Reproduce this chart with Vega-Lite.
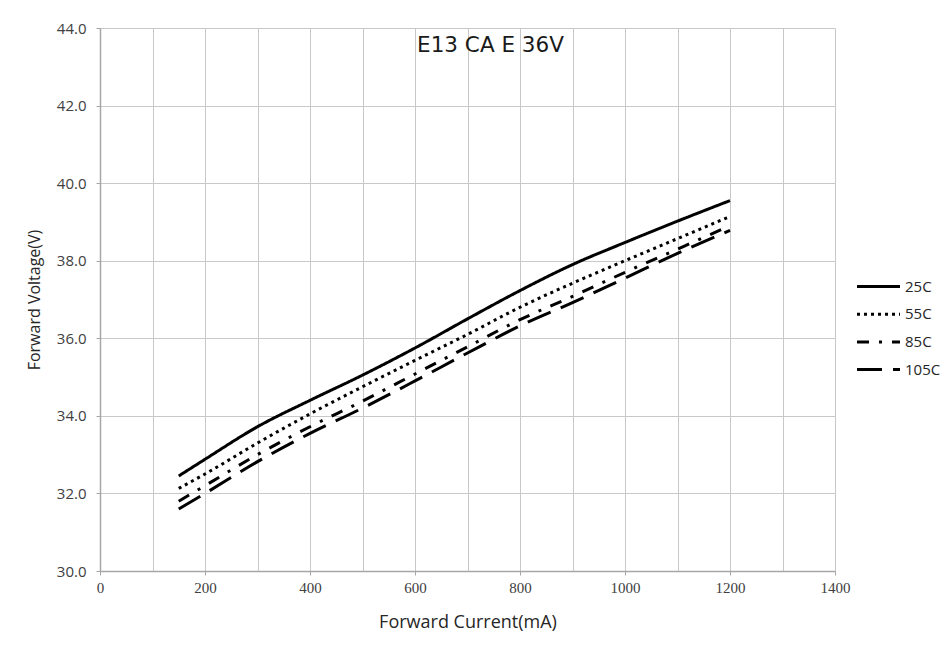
{
  "$schema": "https://vega.github.io/schema/vega-lite/v6.json",
  "autosize": "none",
  "width": 735,
  "height": 543,
  "padding": {"left": 100, "top": 28, "right": 111, "bottom": 74},
  "background": "white",
  "config": {"view": {"stroke": null}},
  "title": {"text": "E13 CA E 36V", "offset": -35, "dx": 23, "font": "DejaVu Sans", "fontSize": 21.5, "fontWeight": "normal", "color": "#1a1a1a"},
  "data": {"values": [
    {"current": 150, "voltage": 32.45, "temp": "25C"},
    {"current": 200, "voltage": 32.88, "temp": "25C"},
    {"current": 300, "voltage": 33.72, "temp": "25C"},
    {"current": 400, "voltage": 34.4, "temp": "25C"},
    {"current": 500, "voltage": 35.05, "temp": "25C"},
    {"current": 600, "voltage": 35.75, "temp": "25C"},
    {"current": 700, "voltage": 36.5, "temp": "25C"},
    {"current": 800, "voltage": 37.23, "temp": "25C"},
    {"current": 900, "voltage": 37.9, "temp": "25C"},
    {"current": 1000, "voltage": 38.47, "temp": "25C"},
    {"current": 1100, "voltage": 39.02, "temp": "25C"},
    {"current": 1200, "voltage": 39.55, "temp": "25C"},
    {"current": 150, "voltage": 32.13, "temp": "55C"},
    {"current": 200, "voltage": 32.5, "temp": "55C"},
    {"current": 300, "voltage": 33.3, "temp": "55C"},
    {"current": 400, "voltage": 34.05, "temp": "55C"},
    {"current": 500, "voltage": 34.75, "temp": "55C"},
    {"current": 600, "voltage": 35.43, "temp": "55C"},
    {"current": 700, "voltage": 36.1, "temp": "55C"},
    {"current": 800, "voltage": 36.8, "temp": "55C"},
    {"current": 900, "voltage": 37.42, "temp": "55C"},
    {"current": 1000, "voltage": 38.0, "temp": "55C"},
    {"current": 1100, "voltage": 38.57, "temp": "55C"},
    {"current": 1200, "voltage": 39.14, "temp": "55C"},
    {"current": 150, "voltage": 31.8, "temp": "85C"},
    {"current": 200, "voltage": 32.2, "temp": "85C"},
    {"current": 300, "voltage": 33.0, "temp": "85C"},
    {"current": 400, "voltage": 33.72, "temp": "85C"},
    {"current": 500, "voltage": 34.38, "temp": "85C"},
    {"current": 600, "voltage": 35.08, "temp": "85C"},
    {"current": 700, "voltage": 35.78, "temp": "85C"},
    {"current": 800, "voltage": 36.48, "temp": "85C"},
    {"current": 900, "voltage": 37.08, "temp": "85C"},
    {"current": 1000, "voltage": 37.7, "temp": "85C"},
    {"current": 1100, "voltage": 38.3, "temp": "85C"},
    {"current": 1200, "voltage": 38.9, "temp": "85C"},
    {"current": 150, "voltage": 31.6, "temp": "105C"},
    {"current": 200, "voltage": 32.0, "temp": "105C"},
    {"current": 300, "voltage": 32.82, "temp": "105C"},
    {"current": 400, "voltage": 33.55, "temp": "105C"},
    {"current": 500, "voltage": 34.2, "temp": "105C"},
    {"current": 600, "voltage": 34.9, "temp": "105C"},
    {"current": 700, "voltage": 35.62, "temp": "105C"},
    {"current": 800, "voltage": 36.32, "temp": "105C"},
    {"current": 900, "voltage": 36.92, "temp": "105C"},
    {"current": 1000, "voltage": 37.55, "temp": "105C"},
    {"current": 1100, "voltage": 38.19, "temp": "105C"},
    {"current": 1200, "voltage": 38.78, "temp": "105C"}
  ]},
  "mark": {"type": "line", "strokeWidth": 3, "color": "black", "interpolate": "monotone"},
  "encoding": {
    "x": {
      "field": "current", "type": "quantitative",
      "scale": {"domain": [0, 1400], "nice": false},
      "axis": {
        "title": "Forward Current(mA)",
        "values": [0, 100, 200, 300, 400, 500, 600, 700, 800, 900, 1000, 1100, 1200, 1300, 1400],
        "labelExpr": "datum.value % 200 === 0 ? datum.label : ''",
        "format": "d",
        "grid": true, "gridColor": "#c8c8c8", "gridWidth": 1,
        "domainColor": "#a6a6a6", "domainWidth": 1.5,
        "tickColor": "#a6a6a6", "tickSize": 4,
        "tickOpacity": {"condition": {"test": "datum.value % 200 === 0", "value": 1}, "value": 0},
        "labelFont": "Liberation Serif", "labelFontSize": 15, "labelColor": "#404040", "labelPadding": 5,
        "labelFlush": false, "labelOverlap": false,
        "titleFont": "Open Sans", "titleFontSize": 18, "titleFontWeight": "normal", "titleColor": "#262626", "titlePadding": 18
      }
    },
    "y": {
      "field": "voltage", "type": "quantitative",
      "scale": {"domain": [30, 44], "nice": false, "zero": false},
      "axis": {
        "title": "Forward Voltage(V)",
        "values": [30, 32, 34, 36, 38, 40, 42, 44],
        "format": ".1f",
        "grid": true, "gridColor": "#c8c8c8", "gridWidth": 1,
        "domainColor": "#a6a6a6", "domainWidth": 1.5,
        "tickColor": "#a6a6a6", "tickSize": 4,
        "labelFont": "Open Sans", "labelFontSize": 15, "labelColor": "#404040", "labelPadding": 10,
        "titleFont": "Open Sans", "titleFontSize": 16, "titleFontWeight": "normal", "titleColor": "#262626", "titlePadding": 14
      }
    },
    "strokeDash": {
      "field": "temp", "type": "nominal",
      "scale": {"domain": ["25C", "55C", "85C", "105C"], "range": [[1, 0], [3, 4], [12, 10, 3, 10], [25, 11]]},
      "legend": {
        "title": null, "orient": "none", "legendX": 766, "legendY": 246,
        "symbolType": "M-2,0L2,0", "symbolSize": 462, "symbolStrokeWidth": 3, "symbolStrokeColor": "black", "symbolFillColor": "transparent",
        "labelFont": "Open Sans", "labelFontSize": 15, "labelColor": "#262626", "labelOffset": 14,
        "rowPadding": 6.7
      }
    }
  }
}
